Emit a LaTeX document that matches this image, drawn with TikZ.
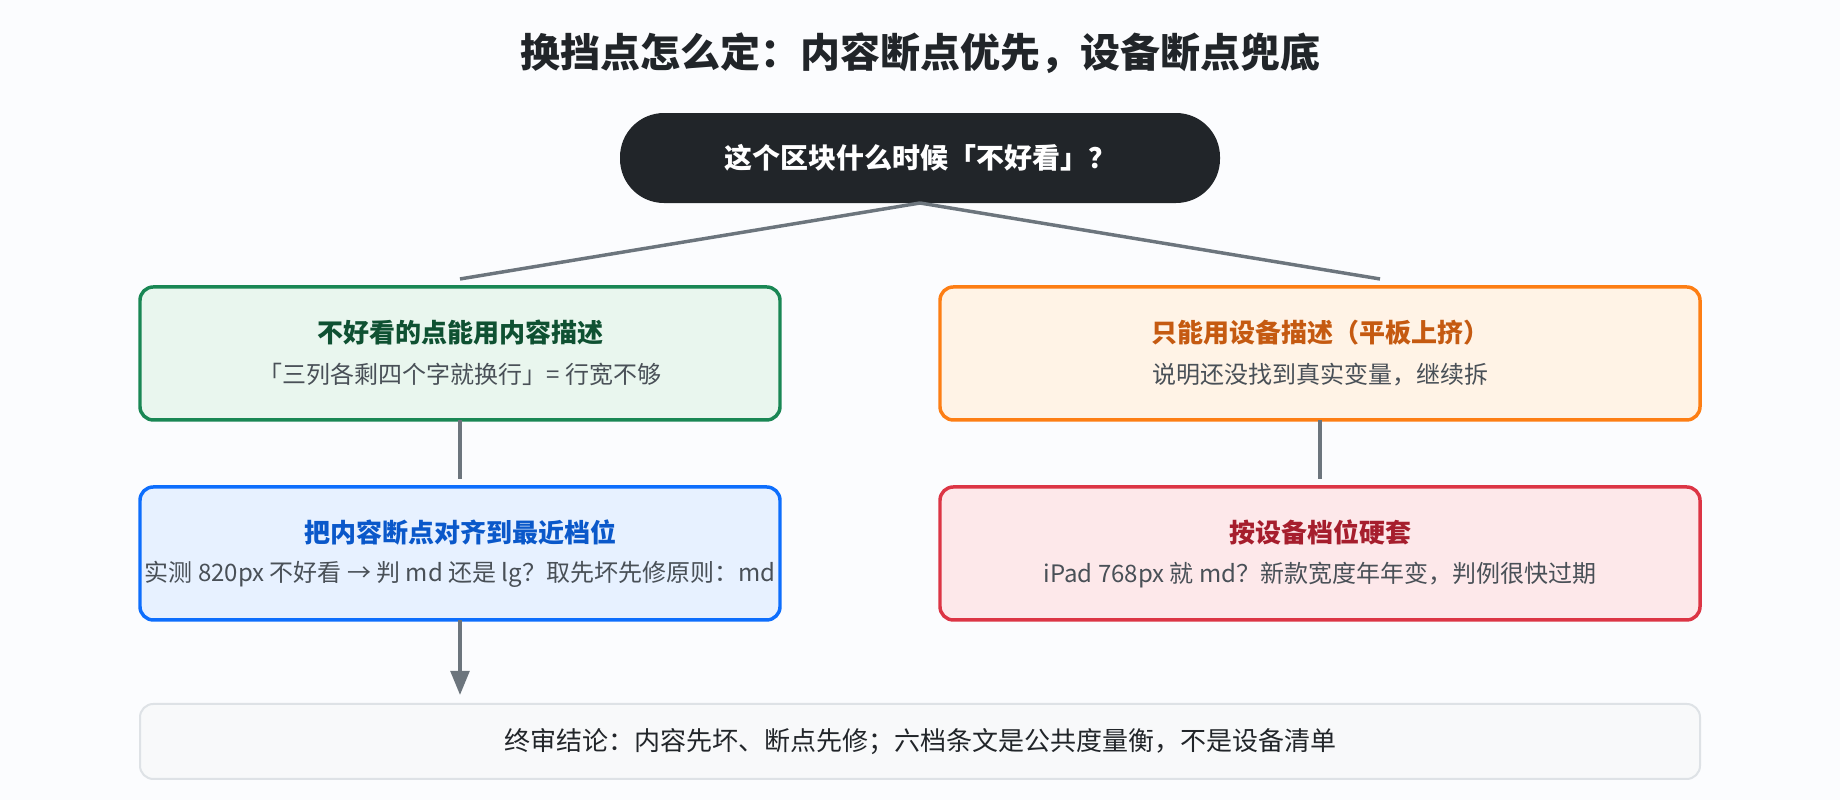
\documentclass[tikz,border=0pt]{standalone}
\usepackage{fontspec}
\setmainfont{Noto Sans CJK SC}
\usetikzlibrary{arrows.meta,positioning}
\definecolor{bgc}{HTML}{FBFCFE}
\definecolor{ink}{HTML}{212529}
\definecolor{greyline}{HTML}{6C757D}
\definecolor{subc}{HTML}{495057}
\definecolor{greenb}{HTML}{198754}
\definecolor{greenf}{HTML}{E9F6EE}
\definecolor{greent}{HTML}{0F5132}
\definecolor{orangeb}{HTML}{FD7E14}
\definecolor{orangef}{HTML}{FFF3E6}
\definecolor{oranget}{HTML}{C55A11}
\definecolor{blueb}{HTML}{0D6EFD}
\definecolor{bluef}{HTML}{E7F1FF}
\definecolor{bluet}{HTML}{0A58CA}
\definecolor{redb}{HTML}{DC3545}
\definecolor{redf}{HTML}{FDE8EA}
\definecolor{redt}{HTML}{A61E2D}
\definecolor{lastb}{HTML}{DEE2E6}
\definecolor{lastf}{HTML}{F8F9FA}

\begin{document}
\begin{tikzpicture}[
  box/.style={draw,rounded corners=10pt,line width=2.6pt,outer sep=0pt,minimum height=99.75pt},
  ttl/.style={font=\fontsize{19.5}{23}\selectfont\bfseries},
  sub/.style={font=\fontsize{18}{22}\selectfont,text=subc},
  conn/.style={draw=greyline,line width=2.6pt}
]
\fill[bgc] (0,0) rectangle (1380pt,-600pt);
\useasboundingbox (0,0) rectangle (1380pt,-600pt);

\node [font=\fontsize{30}{35}\selectfont\bfseries,text=ink] (title) at (690pt,-39.75pt) {换挡点怎么定：内容断点优先，设备断点兜底};

\node [fill=ink,rounded corners=33pt,outer sep=0pt,minimum width=450pt,minimum height=67.5pt,
       text=white,font=\fontsize{21}{25}\selectfont\bfseries] (pill) at (690pt,-118.5pt) {这个区块什么时候「不好看」？};

\node [box,draw=greenb,fill=greenf,minimum width=480pt] (green) at (345pt,-265.1pt) {};
\node [ttl,text=greent] (green1) at ([yshift=16pt]green.center) {不好看的点能用内容描述};
\node [sub] (green2) at ([yshift=-16pt]green.center) {「三列各剩四个字就换行」= 行宽不够};

\node [box,draw=orangeb,fill=orangef,minimum width=570pt,right=120pt of green] (orange) {};
\node [ttl,text=oranget] (orange1) at ([yshift=16pt]orange.center) {只能用设备描述（平板上挤）};
\node [sub] (orange2) at ([yshift=-16pt]orange.center) {说明还没找到真实变量，继续拆};

\node [box,draw=blueb,fill=bluef,minimum width=480pt,below=50.25pt of green] (blue) {};
\node [ttl,text=bluet] (blue1) at ([yshift=16pt]blue.center) {把内容断点对齐到最近档位};
\node [sub] (blue2) at ([yshift=-16pt]blue.center) {实测 820px 不好看 → 判 md 还是 lg？取先坏先修原则：md};

\node [box,draw=redb,fill=redf,minimum width=570pt,below=50.25pt of orange] (red) {};
\node [ttl,text=redt] (red1) at ([yshift=16pt]red.center) {按设备档位硬套};
\node [sub] (red2) at ([yshift=-16pt]red.center) {iPad 768px 就 md？新款宽度年年变，判例很快过期};

\node [draw=lastb,fill=lastf,line width=1.5pt,rounded corners=10pt,outer sep=0pt,
       minimum width=1170pt,minimum height=56.25pt,text=ink,font=\fontsize{19.5}{23}\selectfont] (last) at (690pt,-556.1pt) {终审结论：内容先坏、断点先修；六档条文是公共度量衡，不是设备清单};

\coordinate (gtip) at ([yshift=6pt]green.north);
\coordinate (otip) at ([xshift=45pt,yshift=6pt]orange.north);
\coordinate (btip) at ([yshift=6pt]blue.north);
\coordinate (rtip) at ([yshift=6pt]red.north);
\coordinate (ltip) at ([yshift=6.75pt]last.north -| blue.south);

\draw [conn] (pill.south) -- (gtip);
\draw [conn] (pill.south) -- (otip);
\draw [conn] (green.south) -- (btip);
\draw [conn] (orange.south) -- (rtip);
\draw [conn,-{Triangle[length=18pt,width=14pt]}] (blue.south) -- (ltip);
\end{tikzpicture}
\end{document}
